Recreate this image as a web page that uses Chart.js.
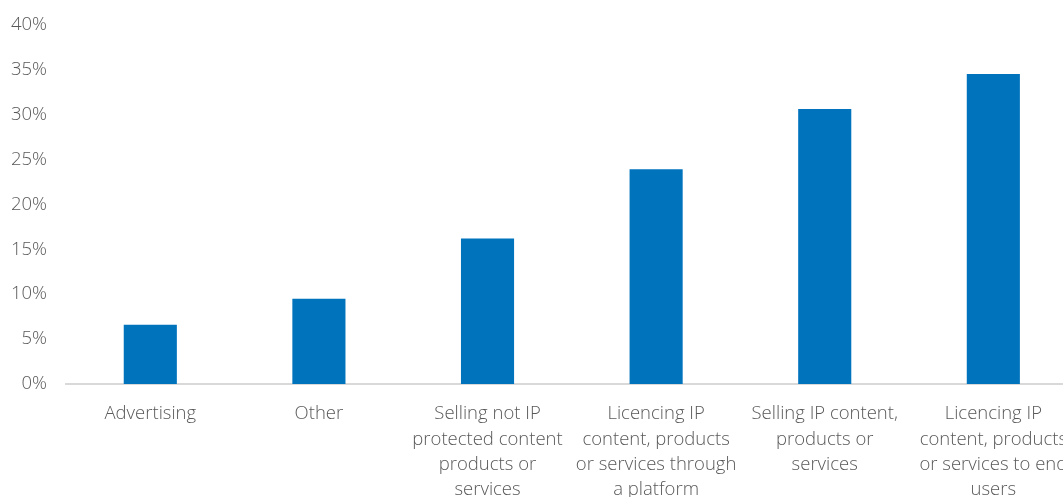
<!DOCTYPE html>
<html>
<head>
<meta charset="utf-8">
<script src="https://cdn.jsdelivr.net/npm/chart.js@4"></script>
<style>
  html, body { margin: 0; padding: 0; background: #fff; overflow: hidden; }
  #wrap { position: relative; top: -7px; width: 1085px; height: 512px; }
</style>
</head>
<body>
<div id="wrap"><canvas id="revChart"></canvas></div>
<script>
const categories = [
  'Advertising',
  'Other',
  ['Selling not IP', 'protected content', 'products or', 'services'],
  ['Licencing IP', 'content, products', 'or services through', 'a platform'],
  ['Selling IP content,', 'products or', 'services'],
  ['Licencing IP', 'content, products', 'or services to end', 'users'],
];
const shares = [6.6, 9.5, 16.2, 23.9, 30.6, 34.5];
const yTicks = [0, 5, 10, 15, 20, 25, 30, 35, 40];

const textColor = '#595959';
const font = { family: "'Open Sans', 'Noto Sans', sans-serif", size: 18.5, weight: '300', lineHeight: 1.37 };

const ctx = document.getElementById('revChart').getContext('2d');
new Chart(ctx, {
  type: 'bar',
  data: {
    labels: categories,
    datasets: [{
      data: shares,
      backgroundColor: '#0073bd',
      borderWidth: 0,
      categoryPercentage: 1,
      barPercentage: 0.315,
    }],
  },
  options: {
    responsive: true,
    maintainAspectRatio: false,
    animation: false,
    layout: { padding: { top: 16, left: 0, right: 3, bottom: 0 } },
    plugins: {
      legend: { display: false },
      tooltip: { enabled: false },
    },
    scales: {
      x: {
        grid: { display: false, drawTicks: false },
        border: { color: '#d9d9d9', width: 2 },
        ticks: { color: textColor, font, maxRotation: 0, autoSkip: false, padding: 17.5 },
        afterFit: s => { s.height = 121; },
      },
      y: {
        min: 0,
        max: 40,
        afterBuildTicks: s => { s.ticks = yTicks.map(v => ({ value: v })); },
        grid: { display: false, drawTicks: false },
        border: { display: false },
        ticks: { color: textColor, font, padding: 19, callback: v => v + '%' },
        afterFit: s => { s.width = 66; },
      },
    },
  },
});
</script>
</body>
</html>
